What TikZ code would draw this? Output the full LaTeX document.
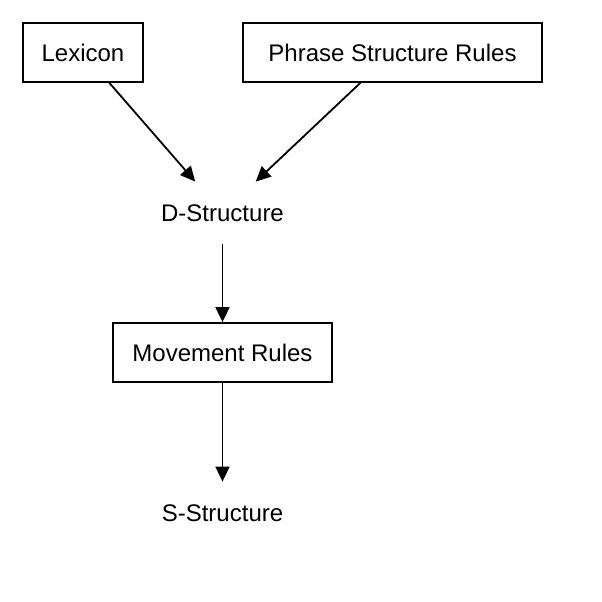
\documentclass[tikz,border=0pt]{standalone}
\usepackage{fontspec}
\setmainfont{Liberation Sans}
\usepackage{tikz}
\usetikzlibrary{positioning, arrows.meta}
\tikzset{box/.style={draw,rectangle,inner sep=0pt,minimum height=59pt,align=center}}
\tikzset{lbl/.style={rectangle,inner sep=0pt,minimum height=61pt,minimum width=120pt}}

\begin{document}
\begin{tikzpicture}[x=1pt,y=-1pt,line width=1.8pt, every node/.style={font=\fontsize{24}{28}\selectfont}]
        \useasboundingbox (0,0) rectangle (602,602);
        %Boxes
        \node[box,minimum width=120pt] (lex) at (83,52.5) {Lexicon};
        \node[box,minimum width=299pt] (psr) at (392.5,52.5) {Phrase Structure Rules};
        \node[box,minimum width=219pt] (mov) at (222.5,352.5) {Movement Rules};
        %Levels
        \node[lbl] (ds) at (222.5,213) {D-Structure};
        \node[lbl] (ss) at (222.5,513) {S-Structure};
        %Arrows
        \draw[-{Triangle[length=15pt,width=14pt]}] (lex) -- (ds);
        \draw[-{Triangle[length=15pt,width=14pt]}] (psr) -- (ds);
        \draw[-{Triangle[length=15pt,width=14pt]}] (ds) -- (mov);
        \draw[-{Triangle[length=15pt,width=14pt]}] (mov) -- (ss);
        \end{tikzpicture}
\end{document}
